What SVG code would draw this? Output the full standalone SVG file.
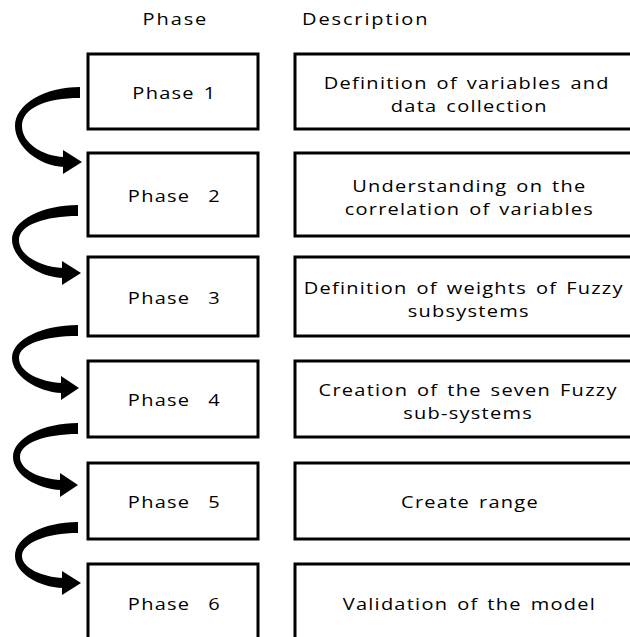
<svg xmlns="http://www.w3.org/2000/svg" width="630" height="637" viewBox="0 0 630 637">
  <style>
    .box { fill: #ffffff; stroke: #000000; stroke-width: 3; }
    .lbl { font-family: "Open Sans", "Liberation Sans", sans-serif; font-size: 16px; letter-spacing: 1px; word-spacing: 2px; fill: #000000; text-anchor: middle; }
    .hdr { font-family: "Open Sans", "Liberation Sans", sans-serif; font-size: 16px; letter-spacing: 1.5px; fill: #000000; }
    .arrow { fill: #000000; }
  </style>
  <rect width="630" height="637" fill="#ffffff"/>

  <!-- column headings (text is drawn in a horizontally widened frame) -->
  <g transform="scale(1.25 1)">
    <text class="hdr" x="140.3" y="25" text-anchor="middle">Phase</text>
    <text class="hdr" x="241.6" y="25">Description</text>
  </g>

  <!-- phase boxes -->
  <g id="phase1">
    <rect class="box" x="88" y="54" width="170" height="75"/>
    <text class="lbl" transform="scale(1.25 1)" x="139.5" y="99">Phase 1</text>
  </g>
  <g id="phase2">
    <rect class="box" x="88" y="153" width="170" height="83"/>
    <text class="lbl" transform="scale(1.25 1)" x="139.5" y="202" xml:space="preserve">Phase  2</text>
  </g>
  <g id="phase3">
    <rect class="box" x="88" y="257" width="170" height="79"/>
    <text class="lbl" transform="scale(1.25 1)" x="139.5" y="304" xml:space="preserve">Phase  3</text>
  </g>
  <g id="phase4">
    <rect class="box" x="88" y="361" width="170" height="76"/>
    <text class="lbl" transform="scale(1.25 1)" x="139.5" y="406" xml:space="preserve">Phase  4</text>
  </g>
  <g id="phase5">
    <rect class="box" x="88" y="463" width="170" height="76"/>
    <text class="lbl" transform="scale(1.25 1)" x="139.5" y="508.5" xml:space="preserve">Phase  5</text>
  </g>
  <g id="phase6">
    <rect class="box" x="88" y="564" width="170" height="80"/>
    <text class="lbl" transform="scale(1.25 1)" x="139.5" y="610" xml:space="preserve">Phase  6</text>
  </g>

  <!-- description boxes -->
  <g id="desc1">
    <rect class="box" x="295" y="54" width="350" height="75"/>
    <g transform="scale(1.25 1)">
      <text class="lbl" x="373.5" y="89">Definition of variables and</text>
      <text class="lbl" x="375.5" y="112.5">data collection</text>
    </g>
  </g>
  <g id="desc2">
    <rect class="box" x="295" y="153" width="350" height="83"/>
    <g transform="scale(1.25 1)">
      <text class="lbl" x="375.5" y="192">Understanding on the</text>
      <text class="lbl" x="375.5" y="215.5">correlation of variables</text>
    </g>
  </g>
  <g id="desc3">
    <rect class="box" x="295" y="257" width="350" height="79"/>
    <g transform="scale(1.25 1)">
      <text class="lbl" x="371" y="294">Definition of weights of Fuzzy</text>
      <text class="lbl" x="375" y="317.5">subsystems</text>
    </g>
  </g>
  <g id="desc4">
    <rect class="box" x="295" y="361" width="350" height="76"/>
    <g transform="scale(1.25 1)">
      <text class="lbl" x="374.5" y="396">Creation of the seven Fuzzy</text>
      <text class="lbl" x="374.5" y="419.5">sub-systems</text>
    </g>
  </g>
  <g id="desc5">
    <rect class="box" x="295" y="463" width="350" height="76"/>
    <text class="lbl" transform="scale(1.25 1)" x="376" y="508.5">Create range</text>
  </g>
  <g id="desc6">
    <rect class="box" x="295" y="564" width="350" height="80"/>
    <text class="lbl" transform="scale(1.25 1)" x="375.5" y="610">Validation of the model</text>
  </g>

  <!-- curved arrows linking consecutive phases -->
  <g id="connectors">
    <g id="arrow1-2">
      <path class="arrow" d="M80,87 C45,87 15,104 15,126 C15,146 38,166 64,167 L64,157 C42,156 22,143 22,126 C22,108 46,98 80,98 Z"/>
      <path class="arrow" d="M63,150 L82,162 L63,174 Z"/>
    </g>
    <g id="arrow2-3">
      <path class="arrow" d="M78,205 C43,205 12,220 12,240 C12,258 37,277 63,278 L63,268 C41,267 19,256 19,240 C19,225 45,216 78,216 Z"/>
      <path class="arrow" d="M62,261 L81,273 L62,285 Z"/>
    </g>
    <g id="arrow3-4">
      <path class="arrow" d="M78,325 C43,325 12,339 12,358 C12,375 36,392 62,393 L62,383 C40,382 19,372 19,358 C19,344 45,336 78,336 Z"/>
      <path class="arrow" d="M61,376 L79,388 L61,400 Z"/>
    </g>
    <g id="arrow4-5">
      <path class="arrow" d="M78,423 C43,423 13,438 13,457 C13,474 36,489 61,490 L61,480 C40,479 20,470 20,457 C20,443 45,434 78,434 Z"/>
      <path class="arrow" d="M60,473 L78,485 L60,497 Z"/>
    </g>
    <g id="arrow5-6">
      <path class="arrow" d="M78,522 C43,522 15,537 15,556 C15,573 38,587 63,588 L63,578 C42,577 22,568 22,556 C22,543 46,533 78,533 Z"/>
      <path class="arrow" d="M62,571 L81,583 L62,595 Z"/>
    </g>
  </g>
</svg>
